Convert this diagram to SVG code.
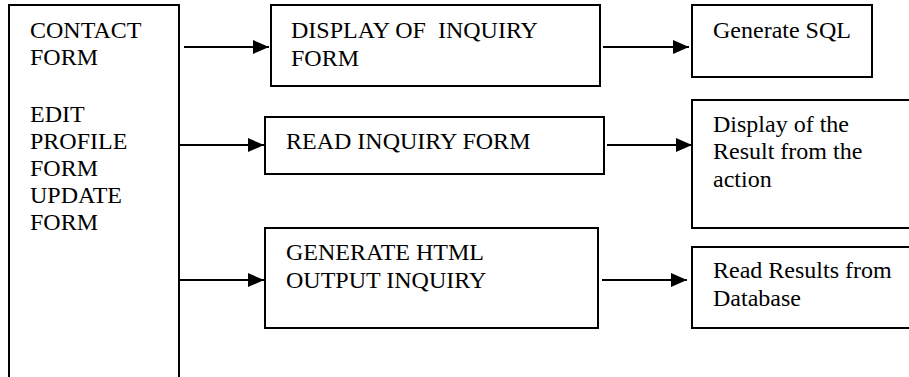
<svg xmlns="http://www.w3.org/2000/svg" width="909" height="377" viewBox="0 0 909 377">
<style>
.box{fill:#fff;stroke:#000;stroke-width:2}
.t{font-family:'Liberation Serif','Times New Roman','DejaVu Serif',serif;font-size:24px;fill:#000}
.c{stroke:#000;stroke-width:2;fill:none}
</style>
<defs>
<marker id="ah" markerUnits="userSpaceOnUse" markerWidth="16" markerHeight="14" refX="16" refY="7" orient="auto">
<path d="M0,0 L16,7 L0,14 Z" fill="#000"/>
</marker>
</defs>
<rect width="909" height="377" fill="#fff"/>
<g id="forms">
<rect class="box" x="9" y="5" width="170" height="400"/>
<text class="t" font-family="Liberation Serif, serif"><tspan x="30" y="38">CONTACT</tspan><tspan x="30" y="65">FORM</tspan><tspan x="30" y="122">EDIT</tspan><tspan x="30" y="149">PROFILE</tspan><tspan x="30" y="176">FORM</tspan><tspan x="30" y="203">UPDATE</tspan><tspan x="30" y="230">FORM</tspan></text>
</g>
<g id="display-inquiry">
<rect class="box" x="271" y="5" width="329" height="81"/>
<text class="t" font-family="Liberation Serif, serif"><tspan x="291" y="38" xml:space="preserve">DISPLAY OF  INQUIRY</tspan><tspan x="291" y="66">FORM</tspan></text>
</g>
<g id="read-inquiry">
<rect class="box" x="265" y="117" width="339" height="57"/>
<text class="t" font-family="Liberation Serif, serif" x="286" y="149">READ INQUIRY FORM</text>
</g>
<g id="generate-html">
<rect class="box" x="265" y="228" width="333" height="100"/>
<text class="t" font-family="Liberation Serif, serif"><tspan x="286" y="260">GENERATE HTML</tspan><tspan x="286" y="288">OUTPUT INQUIRY</tspan></text>
</g>
<g id="generate-sql">
<rect class="box" x="692" y="5" width="180" height="72"/>
<text class="t" font-family="Liberation Serif, serif" x="713" y="38">Generate SQL</text>
</g>
<g id="display-result">
<rect class="box" x="692" y="100" width="240" height="128"/>
<text class="t" font-family="Liberation Serif, serif"><tspan x="713" y="132">Display of the</tspan><tspan x="713" y="159">Result from the</tspan><tspan x="713" y="187">action</tspan></text>
</g>
<g id="read-results">
<rect class="box" x="692" y="247" width="240" height="81"/>
<text class="t" font-family="Liberation Serif, serif"><tspan x="713" y="278">Read Results from</tspan><tspan x="713" y="306">Database</tspan></text>
</g>
<g id="connectors">
<line class="c" x1="184" y1="47" x2="269" y2="47" marker-end="url(#ah)"/>
<line class="c" x1="180" y1="145" x2="264" y2="145" marker-end="url(#ah)"/>
<line class="c" x1="180" y1="280" x2="264" y2="280" marker-end="url(#ah)"/>
<line class="c" x1="603" y1="47" x2="689" y2="47" marker-end="url(#ah)"/>
<line class="c" x1="607" y1="145" x2="692" y2="145" marker-end="url(#ah)"/>
<line class="c" x1="602" y1="280" x2="687" y2="280" marker-end="url(#ah)"/>
</g>
</svg>
